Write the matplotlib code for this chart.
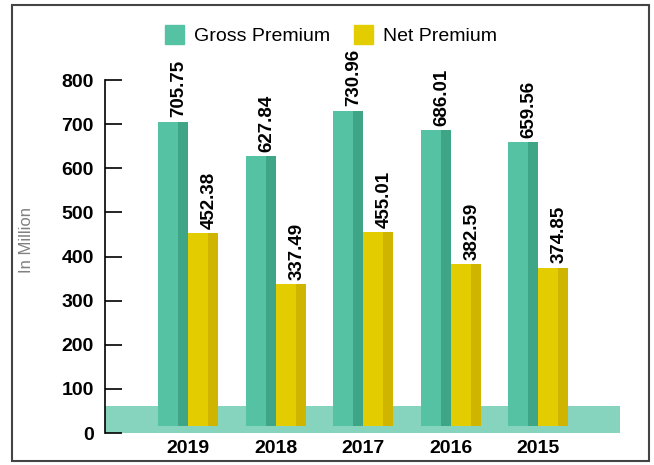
import matplotlib.pyplot as plt
from matplotlib.patches import Patch, Rectangle
import numpy as np

years = ['2019', '2018', '2017', '2016', '2015']
gross = [705.75, 627.84, 730.96, 686.01, 659.56]
net = [452.38, 337.49, 455.01, 382.59, 374.85]

green = '#55c3a3'
green_side = '#3ea686'
yellow = '#e3cc00'
yellow_side = '#cfb400'

plt.rcParams['font.family'] = ['Liberation Sans', 'DejaVu Sans']

fig = plt.figure(figsize=(6.54, 4.65), dpi=100)
ax = fig.add_axes([0.1606, 0.0688, 0.7875, 0.759])

x = np.arange(len(years))
w = 0.343
front = w * 0.67
side = w - front
base = 16  # bars stand on the floor band, a little above zero

# each bar = lighter front face + darker strip on the right for a 3D look
for vals, off, c, cs in [(gross, -w / 2, green, green_side),
                         (net, w / 2, yellow, yellow_side)]:
    left = x + off - w / 2
    h = [v - base for v in vals]
    ax.bar(left, h, bottom=base, width=front, align='edge', color=c, zorder=2)
    ax.bar(left + front, h, bottom=base, width=side, align='edge',
           color=cs, zorder=2)
    for xi, v in zip(x + off, vals):
        ax.annotate(f'{v:.2f}', (xi + 0.07, v), xytext=(0, 3),
                    textcoords='offset points', rotation=90,
                    ha='center', va='bottom', fontsize=13.5,
                    fontweight='bold', zorder=4)

# floor band
ax.axhspan(0, 62, color='#86d4bd', zorder=1, lw=0)

ax.set_xlim(-0.949, 4.937)
ax.set_ylim(0, 800)
ax.set_yticks(range(0, 801, 100))
ax.set_xticks(x)
ax.set_xticklabels(years)
for s in ['top', 'right', 'bottom']:
    ax.spines[s].set_visible(False)
ax.spines['left'].set_linewidth(1.2)
ax.tick_params(axis='y', direction='in', length=12, width=1.2,
               labelsize=14, pad=8)
ax.tick_params(axis='x', length=0, labelsize=14, pad=5)
for lab in ax.get_xticklabels() + ax.get_yticklabels():
    lab.set_fontweight('bold')

fig.text(0.04, 1 - 240 / 465, 'In Million', rotation=90, color='#808080',
         fontsize=12, ha='center', va='center')

handles = [Patch(color=green, label='Gross Premium'),
           Patch(color=yellow, label='Net Premium')]
fig.legend(handles=handles, loc='center', bbox_to_anchor=(0.506, 0.925),
           ncol=2, frameon=False, fontsize=14, handlelength=1.0,
           handleheight=1.1, handletextpad=0.5, columnspacing=1.2)

fig.patches.append(Rectangle((12 / 654, 4 / 465), 637 / 654, 456 / 465,
                             transform=fig.transFigure, fill=False,
                             edgecolor='#444444', lw=1.5))

fig.savefig('out.png', dpi=100)
